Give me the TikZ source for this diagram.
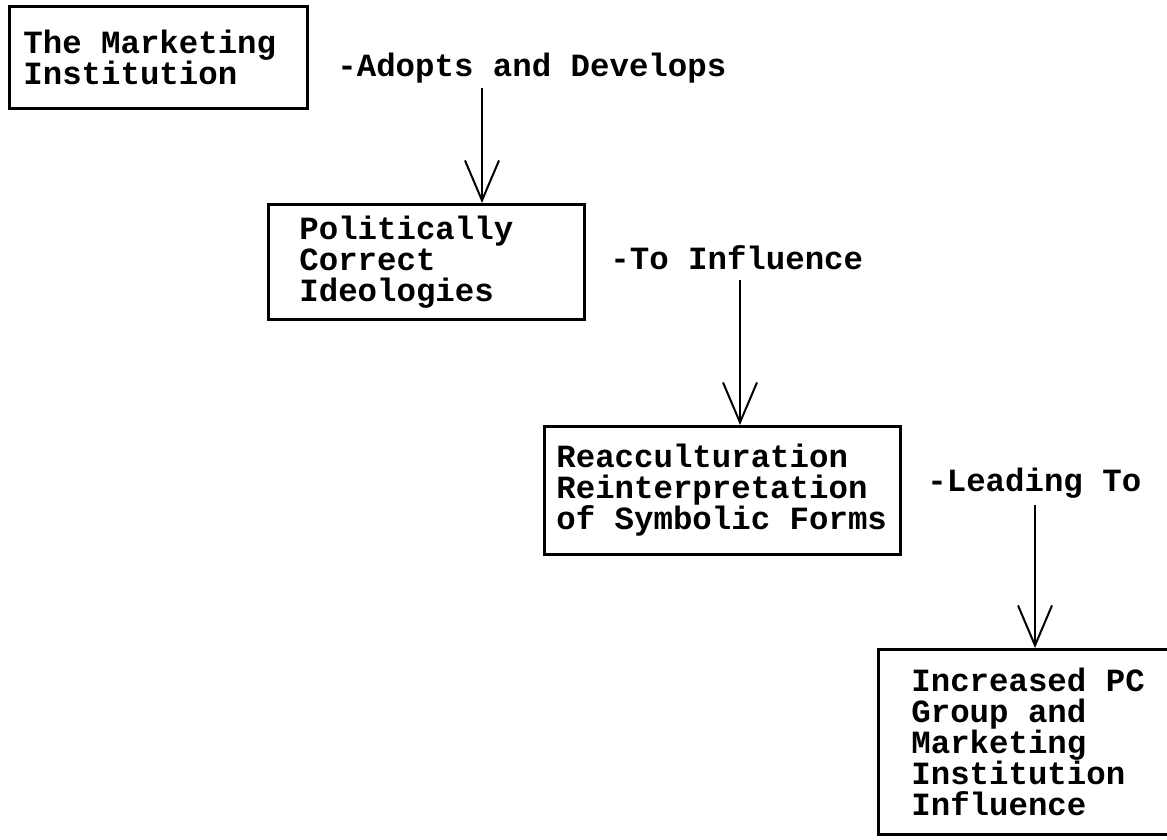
\documentclass[tikz,border=0pt]{standalone}
\usepackage{fontspec}
\newfontfamily\pcfont{Liberation Mono}
\usetikzlibrary{arrows.meta}
% fixed word space, one character wide
\newcommand{\pcsize}{\pcfont\bfseries\fontsize{16.2}{15.5}\selectfont
    \fontdimen2\font=9.72pt\fontdimen3\font=0pt\fontdimen4\font=0pt}

\begin{document}
\begin{tikzpicture}[
    x=0.5pt, y=-0.5pt,
    box/.style={rectangle, draw, line width=1.4pt, anchor=north west, align=left, inner ysep=0pt,
                font=\pcsize, execute at begin node={\spaceskip=9.72pt\xspaceskip=9.72pt}},
    lbl/.style={anchor=west, inner sep=0pt, font=\pcsize},
    arrow/.style={-{Straight Barb[length=20pt, width=17pt, line width=1pt]}, line width=1pt}
]
    \clip (0,0) rectangle (1167,840);

    \node[box, inner xsep=7pt, text width=135pt, minimum height=51pt] (mkt) at (8,5) {The Marketing\\Institution};
    \node[box, inner xsep=15.5pt, text width=127pt, minimum height=57.5pt] (pc) at (267,203) {Politically\\Correct\\Ideologies};
    \node[box, inner xsep=6pt, text width=166pt, minimum height=64pt] (reac) at (543,425) {Reacculturation\\Reinterpretation\\of Symbolic Forms};
    % runs past the right edge of the page
    \node[box, inner xsep=16.5pt, text width=150pt, minimum height=92.5pt] (infl) at (877,648) {Increased PC\\Group and\\Marketing\\Institution\\Influence};

    \node[lbl] (adopt) at (337,68) {-Adopts and Develops};
    \node[lbl] (toinf) at (610,258) {-To Influence};
    \node[lbl] (lead) at (927,483) {-Leading To};

    \coordinate (a1) at (482,88);
    \coordinate (a2) at (740,280);
    \coordinate (a3) at (1035,505);

    \draw[arrow] (a1) -- (a1 |- pc.north);
    \draw[arrow] (a2) -- (a2 |- reac.north);
    \draw[arrow] (a3) -- (a3 |- infl.north);
\end{tikzpicture}
\end{document}
